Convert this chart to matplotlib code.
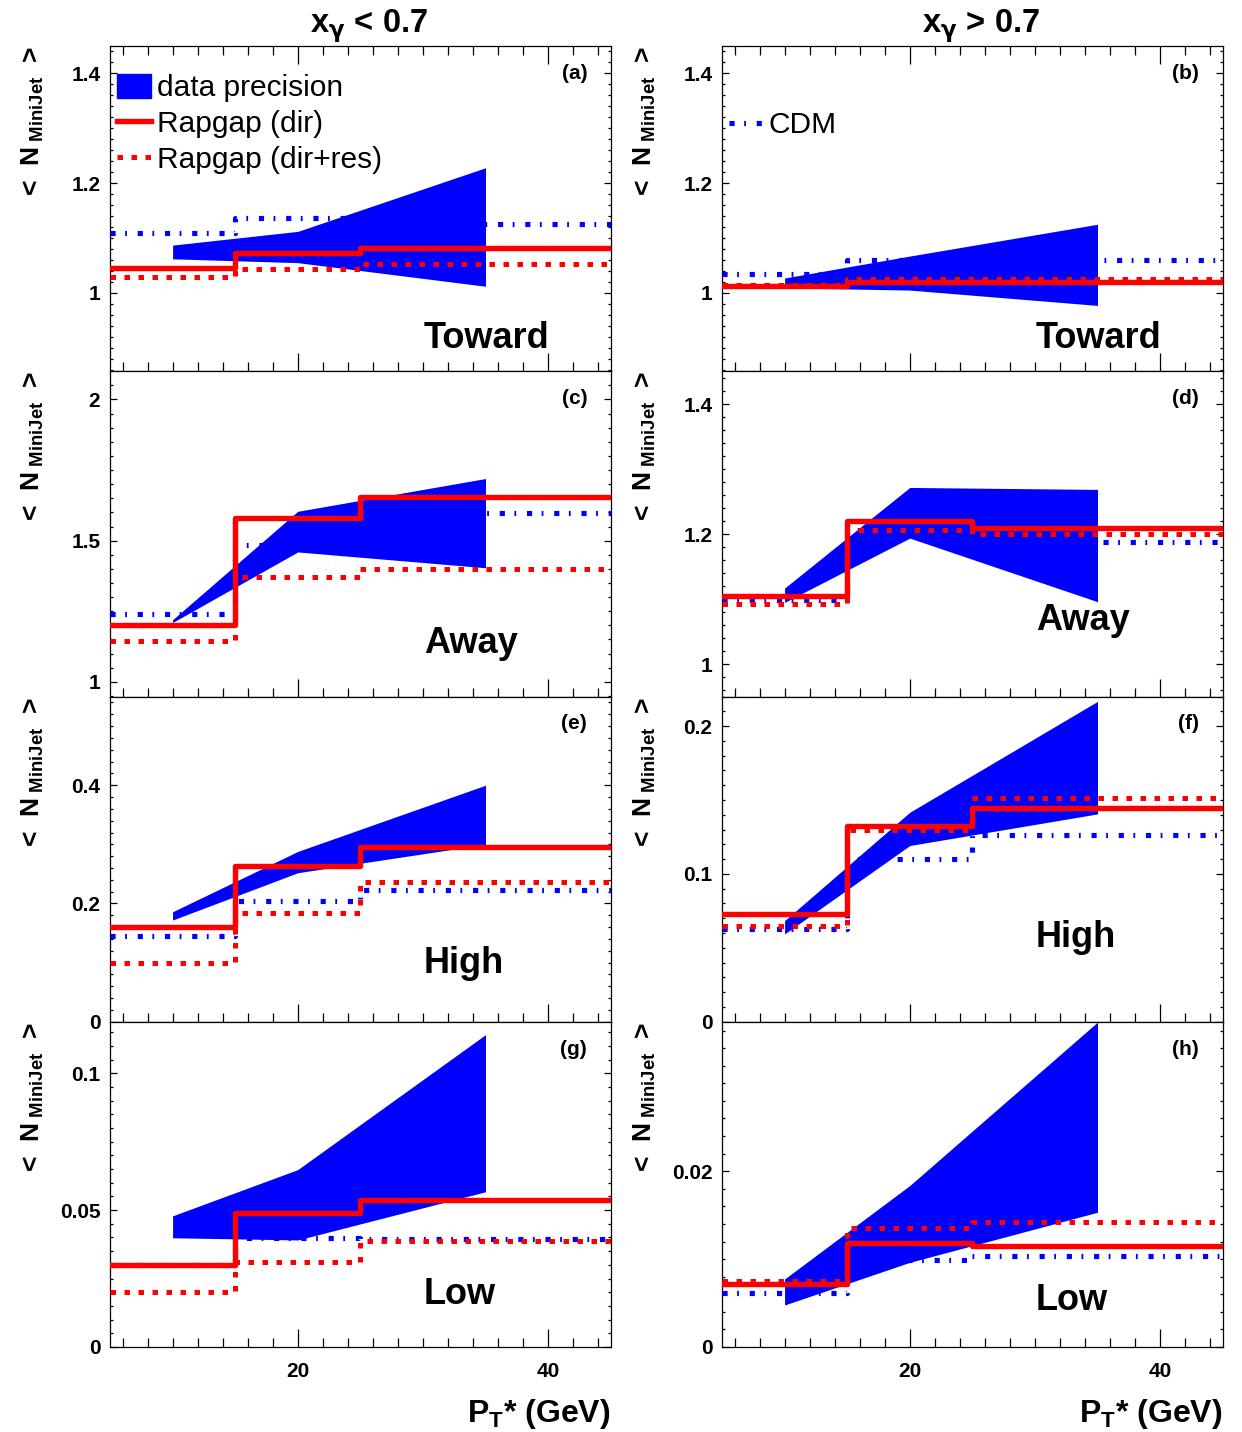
import numpy as np
import matplotlib
matplotlib.use('Agg')
import matplotlib.pyplot as plt
from matplotlib.ticker import MultipleLocator, FormatStrFormatter
from matplotlib.patches import Patch
from matplotlib.lines import Line2D

plt.rcParams['font.family'] = ['Liberation Sans', 'DejaVu Sans']
plt.rcParams['font.weight'] = 'bold'
plt.rcParams['mathtext.fontset'] = 'custom'
plt.rcParams['mathtext.rm'] = 'Liberation Sans'
plt.rcParams['mathtext.bf'] = 'Liberation Sans:bold'
plt.rcParams['mathtext.it'] = 'Liberation Sans:italic'
plt.rcParams['mathtext.sf'] = 'DejaVu Sans'
plt.rcParams['mathtext.default'] = 'bf'

# bin edges of the model histograms and pT points of the data band
pt_edges = [5, 15, 25, 45]
band_pt = [10, 20, 35]

panels = ['a', 'b', 'c', 'd', 'e', 'f', 'g', 'h']
regions = ['Toward', 'Toward', 'Away', 'Away', 'High', 'High', 'Low', 'Low']

cdm = {
    'a': [1.109, 1.137, 1.126],
    'b': [1.035, 1.059, 1.059],
    'c': [1.241, 1.484, 1.598],
    'd': [1.098, 1.206, 1.188],
    'e': [0.145, 0.204, 0.222],
    'f': [0.0628, 0.110, 0.1264],
    'g': [0.0300, 0.0397, 0.0394],
    'h': [0.00615, 0.00994, 0.0104],
}
rap_dir = {
    'a': [1.045, 1.073, 1.082],
    'b': [1.012, 1.020, 1.020],
    'c': [1.203, 1.581, 1.655],
    'd': [1.105, 1.221, 1.209],
    'e': [0.161, 0.264, 0.295],
    'f': [0.0729, 0.1327, 0.1447],
    'g': [0.0300, 0.0488, 0.0536],
    'h': [0.00717, 0.0118, 0.01153],
}
rap_dirres = {
    'a': [1.029, 1.044, 1.053],
    'b': [1.014, 1.025, 1.025],
    'c': [1.144, 1.370, 1.399],
    'd': [1.092, 1.207, 1.200],
    'e': [0.099, 0.184, 0.236],
    'f': [0.065, 0.1298, 0.1515],
    'g': [0.0200, 0.0312, 0.0387],
    'h': [0.00755, 0.01355, 0.01427],
}
band_lo = {
    'a': [1.062, 1.055, 1.012],
    'b': [1.009, 1.005, 0.977],
    'c': [1.210, 1.460, 1.404],
    'd': [1.095, 1.194, 1.096],
    'e': [0.172, 0.252, 0.300],
    'f': [0.0594, 0.1192, 0.1406],
    'g': [0.0399, 0.0391, 0.0567],
    'h': [0.00478, 0.00963, 0.01533],
}
band_hi = {
    'a': [1.087, 1.112, 1.228],
    'b': [1.027, 1.067, 1.125],
    'c': [1.220, 1.604, 1.720],
    'd': [1.117, 1.272, 1.269],
    'e': [0.186, 0.288, 0.400],
    'f': [0.0684, 0.1417, 0.2167],
    'g': [0.0479, 0.0648, 0.1141],
    'h': [0.00774, 0.01837, 0.03696],
}

# axis setup per panel: ylim, major step, minor step, region label y
ylims = {'a': (0.857, 1.45), 'b': (0.857, 1.45), 'c': (0.948, 2.10), 'd': (0.95, 1.451),
         'e': (0, 0.55), 'f': (0, 0.22), 'g': (0, 0.1188), 'h': (0, 0.037)}
ysteps = {'a': (0.2, 0.02), 'b': (0.2, 0.02), 'c': (0.5, 0.05), 'd': (0.2, 0.02),
          'e': (0.2, 0.02), 'f': (0.1, 0.01), 'g': (0.05, 0.005), 'h': (0.02, 0.002)}
region_y = {'a': 0.072, 'b': 0.072, 'c': 0.134, 'd': 0.205,
            'e': 0.15, 'f': 0.231, 'g': 0.131, 'h': 0.114}

BLUE = '#0000ff'
RED = '#ff0000'
dotted = (0, (1.1, 1.7))
dashdot = (0, (1.0, 1.85, 0.35, 2.1))

fig = plt.figure(figsize=(12.42, 14.32), dpi=100)

W = 1242.0
H = 1432.0
col_left = [110 / W, 722 / W]
ax_w = 500.7 / W
row_h = 325.25 / H
top = 1 - 46 / H


def step_vals(v):
    return np.append(v, v[-1])


for i, p in enumerate(panels):
    row, col = i // 2, i % 2
    ax = fig.add_axes([col_left[col], top - (row + 1) * row_h, ax_w, row_h])

    ax.fill_between(band_pt, band_lo[p], band_hi[p], color=BLUE, lw=0, zorder=2)
    ax.step(pt_edges, step_vals(cdm[p]), where='post', color=BLUE, lw=3.7,
            linestyle=dashdot, zorder=3)
    ax.step(pt_edges, step_vals(rap_dirres[p]), where='post', color=RED, lw=3.6,
            linestyle=dotted, zorder=4)
    ax.step(pt_edges, step_vals(rap_dir[p]), where='post', color=RED, lw=3.9,
            zorder=5)

    ax.set_xlim(5, 45)
    ax.set_ylim(*ylims[p])
    ax.xaxis.set_major_locator(MultipleLocator(20))
    ax.xaxis.set_minor_locator(MultipleLocator(2))
    ax.yaxis.set_major_locator(MultipleLocator(ysteps[p][0]))
    ax.yaxis.set_minor_locator(MultipleLocator(ysteps[p][1]))
    ax.yaxis.set_major_formatter(FormatStrFormatter('%g'))
    ax.xaxis.set_major_formatter(FormatStrFormatter('%g'))

    ax.tick_params(axis='x', which='both', direction='in', top=(row == 0),
                   labelbottom=(row == 3), labelsize=15, pad=11, width=0.9)
    ax.tick_params(axis='x', which='major', length=13)
    ax.tick_params(axis='x', which='minor', length=6.5)
    ax.tick_params(axis='y', which='both', direction='in', right=True,
                   labelsize=15, pad=7, width=0.9)
    ax.tick_params(axis='y', which='major', length=5)
    ax.tick_params(axis='y', which='minor', length=2.5)
    for s in ax.spines.values():
        s.set_linewidth(0.9)

    ax.text(0.953, 0.916, '(%s)' % p, transform=ax.transAxes, ha='right',
            va='center', fontsize=15, fontweight='bold')
    ax.text(0.627, region_y[p], regions[i], transform=ax.transAxes,
            ha='left', va='baseline', fontsize=26, fontweight='bold')
    ax.text(-0.154, 1.0, r'<  N$_{\ MiniJet}$  >', transform=ax.transAxes,
            rotation=90, ha='center', va='top', fontsize=19, fontweight='bold')

    if row == 3:
        ax.text(1.0, -0.231, r'P$_{T}$* (GeV)', transform=ax.transAxes,
                ha='right', va='baseline', fontsize=23, fontweight='bold')

    if p == 'a':
        handles = [Patch(facecolor=BLUE, edgecolor=BLUE),
                   Line2D([], [], color=RED, lw=3.9),
                   Line2D([], [], color=RED, lw=3.6, linestyle=dotted)]
        ax.legend(handles, ['data precision', 'Rapgap (dir)', 'Rapgap (dir+res)'],
                  loc='upper left', bbox_to_anchor=(0.014, 0.915), frameon=False,
                  prop={'size': 21.5, 'weight': 'normal'}, handlelength=1.13,
                  handleheight=0.87, handletextpad=0.2, labelspacing=0.25,
                  borderpad=0, borderaxespad=0)
    if p == 'b':
        handles = [Line2D([], [], color=BLUE, lw=3.7, linestyle=dashdot)]
        ax.legend(handles, ['CDM'], loc='upper left', bbox_to_anchor=(0.014, 0.80),
                  frameon=False, prop={'size': 21.5, 'weight': 'normal'},
                  handlelength=1.13, handletextpad=0.2, borderpad=0, borderaxespad=0)

fig.text(369 / W, 1 - 33 / H, r'x$_{\mathsf{\gamma}}$ < 0.7', ha='center', va='baseline',
         fontsize=23.5, fontweight='bold')
fig.text(981 / W, 1 - 33 / H, r'x$_{\mathsf{\gamma}}$ > 0.7', ha='center', va='baseline',
         fontsize=23.5, fontweight='bold')

fig.savefig('out.png', dpi=100)
